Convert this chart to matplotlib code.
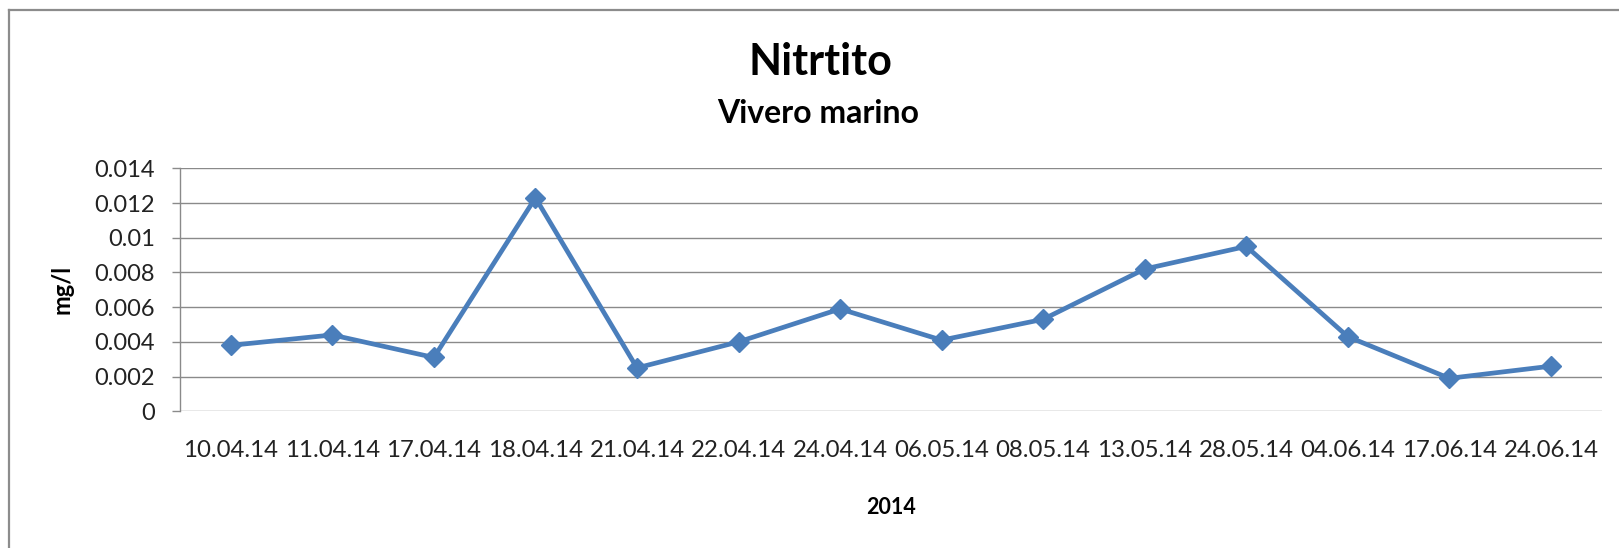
import matplotlib
matplotlib.use("Agg")
import matplotlib.pyplot as plt
from matplotlib.lines import Line2D

dates = ["10.04.14", "11.04.14", "17.04.14", "18.04.14", "21.04.14", "22.04.14",
         "24.04.14", "06.05.14", "08.05.14", "13.05.14", "28.05.14", "04.06.14",
         "17.06.14", "24.06.14"]
nitrito = [0.0038, 0.0044, 0.0031, 0.0123, 0.0025, 0.0040, 0.0059, 0.0041,
           0.0053, 0.0082, 0.0095, 0.0043, 0.0019, 0.0026]
yticks = [0, 0.002, 0.004, 0.006, 0.008, 0.01, 0.012, 0.014]
ytick_labels = ["0", "0.002", "0.004", "0.006", "0.008", "0.01", "0.012", "0.014"]

plt.rcParams['font.family'] = ['Lato', 'DejaVu Sans']

W, H = 1619, 548
fig = plt.figure(figsize=(W / 100, H / 100), dpi=100)
ax = fig.add_axes([180 / W, 1 - 411.3 / H, (1601.7 - 180) / W, (411.3 - 168.3) / H])

x = list(range(len(dates)))
ax.plot(x, nitrito, color="#4A7EBB", lw=3.4, marker="D", markersize=10,
        markerfacecolor="#4A7EBB", markeredgecolor="#4A7EBB", zorder=3)

ax.set_xlim(-0.5, len(dates) - 0.5)
ax.set_ylim(0, 0.014)
ax.set_yticks(yticks)
ax.set_yticklabels(ytick_labels)
ax.set_xticks(x)
ax.set_xticklabels(dates)

ax.grid(axis="y", color="#8a8a8a", lw=1.0)
ax.set_axisbelow(True)
for s in ["top", "right", "bottom"]:
    ax.spines[s].set_visible(False)
ax.spines["left"].set_color("#8a8a8a")
ax.spines["left"].set_linewidth(1.0)

ax.tick_params(axis="y", length=6, width=1, color="#8a8a8a", pad=12,
               labelsize=17, labelcolor="#222222")
ax.tick_params(axis="x", length=0, pad=21, labelsize=17.3, labelcolor="#222222")

fig.text(62 / W, 1 - 289 / H, "mg/l", rotation=90, ha="center", va="center",
         fontsize=17, fontweight="bold")
fig.text(891 / W, 1 - 508 / H, "2014", ha="center", va="center",
         fontsize=15.5, fontweight="bold")
fig.text(820 / W, 1 - 75 / H, "Nitrtito", ha="center", va="baseline",
         fontsize=31, fontweight="bold")
fig.text(818 / W, 1 - 123 / H, "Vivero marino", ha="center", va="baseline",
         fontsize=23, fontweight="bold")

# chart frame
fig.add_artist(Line2D([8.5 / W, 8.5 / W], [0, 1 - 10 / H], transform=fig.transFigure,
                      color="#8c8c8c", lw=1.6))
fig.add_artist(Line2D([8.5 / W, 1], [1 - 10 / H, 1 - 10 / H], transform=fig.transFigure,
                      color="#8c8c8c", lw=1.6))

fig.savefig("out.png", dpi=100, facecolor="white")
